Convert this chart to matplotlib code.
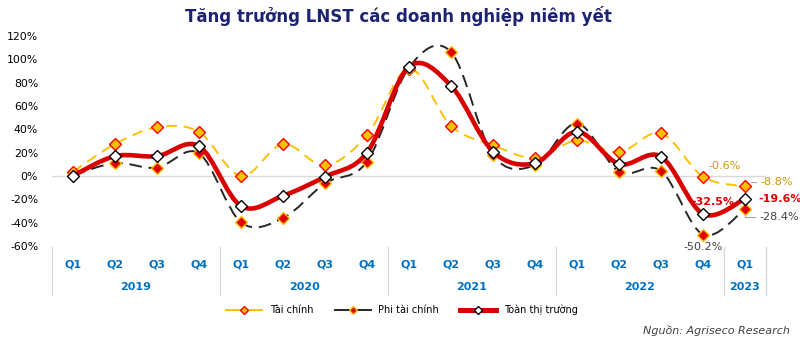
import numpy as np
import matplotlib.pyplot as plt
from matplotlib.path import Path
from matplotlib.patches import PathPatch
from matplotlib.lines import Line2D
from matplotlib.transforms import blended_transform_factory

quarters = ['Q1', 'Q2', 'Q3', 'Q4'] * 4 + ['Q1']
years = ['2019', '2020', '2021', '2022', '2023']
year_sizes = [4, 4, 4, 4, 1]

tai_chinh = [3.7, 27.4, 41.7, 37.7, 0.0, 27.4, 9.1, 34.9, 92.0, 43.0,
             26.5, 15.5, 30.5, 20.3, 36.6, -0.6, -8.8]
phi_tai_chinh = [0.5, 11.0, 7.1, 19.4, -39.7, -36.0, -6.3, 12.3, 93.0, 106.3,
                 18.0, 9.4, 45.0, 3.7, 4.3, -50.2, -28.4]
toan_thi_truong = [0.3, 17.0, 17.0, 25.5, -25.7, -16.9, -0.6, 20.0, 93.7, 77.4,
                   20.9, 11.0, 38.0, 10.3, 16.6, -32.5, -19.6]

labels = ['Tài chính', 'Phi tài chính', 'Toàn thị trường']


def smooth_path(xs, ys):
    # excel-style smoothed line: cubic bezier through every point
    pts = np.column_stack([xs, ys]).astype(float)
    n = len(pts)
    verts = [pts[0]]
    codes = [Path.MOVETO]
    for i in range(n - 1):
        p0 = pts[i - 1] if i > 0 else pts[i]
        p1, p2 = pts[i], pts[i + 1]
        p3 = pts[i + 2] if i + 2 < n else p2
        verts += [p1 + (p2 - p0) / 6, p2 - (p3 - p1) / 6, p2]
        codes += [Path.CURVE4] * 3
    return Path(verts, codes)


fig = plt.figure(figsize=(8, 3.38), dpi=100)
ax = fig.add_axes([52 / 800, 1 - 246 / 338, 714 / 800, 210 / 338])
x = np.arange(len(quarters))

ax.axhline(0, color='#D9D9D9', lw=1, zorder=1)

styles = [
    dict(data=tai_chinh, color='#FFC000', lw=1.4, ls=(0, (5.5, 3.5)),
         mfc='#FFC000', mec='#FF0000'),
    dict(data=phi_tai_chinh, color='#262626', lw=1.4, ls=(0, (6.5, 3.5)),
         mfc='#E00000', mec='#FFC000'),
    dict(data=toan_thi_truong, color='#D90000', lw=3.3, ls='-',
         mfc='white', mec='black'),
]
for k, s in enumerate(styles):
    ax.add_patch(PathPatch(smooth_path(x, s['data']), fill=False, edgecolor=s['color'],
                           lw=s['lw'], linestyle=s['ls'], zorder=2 + 2 * k,
                           capstyle='butt'))
    ax.plot(x, s['data'], ls='none', marker='D', ms=6, mfc=s['mfc'], mec=s['mec'],
            mew=1.0, zorder=3 + 2 * k)

ax.set_xlim(-0.5, len(quarters) - 0.5)
ax.set_ylim(-60, 120)
ax.set_yticks(range(-60, 121, 20))
ax.set_yticklabels([f'{v}%' for v in range(-60, 121, 20)], fontsize=7.8)
ax.tick_params(axis='y', length=0, pad=10)
ax.set_xticks([])
for sp in ax.spines.values():
    sp.set_visible(False)

trans = blended_transform_factory(ax.transData, ax.transAxes)
for i, q in enumerate(quarters):
    ax.text(i, -0.086, q, transform=trans, ha='center', va='center',
            fontsize=8, fontweight='bold', color='#0070C0')
start = 0
edges = [-0.5]
for yr, size in zip(years, year_sizes):
    ax.text(start + (size - 1) / 2, -0.195, yr, transform=trans, ha='center',
            va='center', fontsize=8, fontweight='bold', color='#0070C0')
    start += size
    edges.append(start - 0.5)
for e in edges:
    ax.plot([e, e], [-0.005, -0.233], transform=trans, color='#D9D9D9', lw=1,
            clip_on=False)

# data labels for the last points
gold, red, grey = '#C99A00', '#E00000', '#404040'
ax.annotate('-0.6%', (15, tai_chinh[15]), xytext=(22, 11), textcoords='offset pixels',
            ha='center', va='center', fontsize=8, color=gold)
ax.annotate('-8.8%', (16, tai_chinh[16]), xytext=(15, 4), textcoords='offset pixels',
            ha='left', va='center', fontsize=8, color=gold,
            arrowprops=dict(arrowstyle='-', color='#A6A6A6', lw=0.8, shrinkA=1, shrinkB=5,
                            connectionstyle='angle,angleA=0,angleB=90,rad=0'))
ax.annotate('-19.6%', (16, toan_thi_truong[16]), xytext=(13, 0), textcoords='offset pixels',
            ha='left', va='center', fontsize=8, fontweight='bold', color=red)
ax.annotate('-28.4%', (16, phi_tai_chinh[16]), xytext=(14, -8), textcoords='offset pixels',
            ha='left', va='center', fontsize=8, color=grey,
            arrowprops=dict(arrowstyle='-', color='#A6A6A6', lw=0.8, shrinkA=1, shrinkB=5,
                            connectionstyle='angle,angleA=0,angleB=90,rad=0'))
ax.annotate('-32.5%', (15, toan_thi_truong[15]), xytext=(10, 12), textcoords='offset pixels',
            ha='center', va='center', fontsize=8, fontweight='bold', color=red)
ax.annotate('-50.2%', (15, phi_tai_chinh[15]), xytext=(0, -12), textcoords='offset pixels',
            ha='center', va='center', fontsize=8, color=grey)

handles = [Line2D([], [], color=s['color'], lw=s['lw'] if k < 2 else 3.6, ls='-',
                  marker='D', ms=4, mfc=s['mfc'], mec=s['mec'], mew=1)
           for k, s in enumerate(styles)]
fig.legend(handles, labels, loc='center', bbox_to_anchor=(402 / 800, 1 - 310 / 338),
           ncol=3, frameon=False, fontsize=7, handlelength=3.7, handletextpad=0.8,
           columnspacing=2.2)

fig.text(398 / 800, 1 - 16 / 338, 'Tăng trưởng LNST các doanh nghiệp niêm yết',
         ha='center', va='center', fontsize=12, fontweight='bold', color='#1C2372')
fig.text(790 / 800, 1 - 330 / 338, 'Nguồn: Agriseco Research', ha='right', va='center',
         fontsize=8, style='italic', color='#404040')

fig.savefig('out.png', dpi=100)
